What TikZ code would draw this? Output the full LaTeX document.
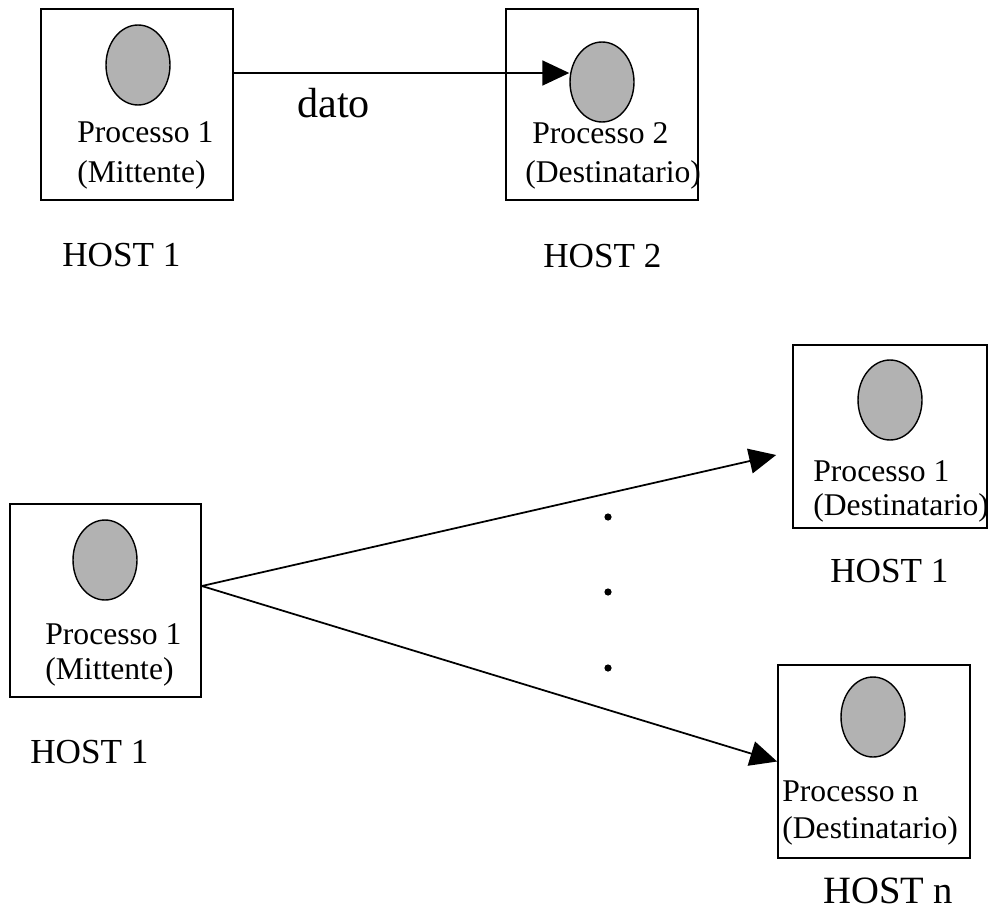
\documentclass[tikz,border=0pt]{standalone}
\usepackage{fontspec}
\setmainfont{Liberation Serif}
\usetikzlibrary{arrows.meta,shapes.geometric}

\begin{document}
\begin{tikzpicture}[x=0.02cm, y=-0.02cm,
    host/.style={draw, line width=1pt, inner sep=0pt},
    proc/.style={draw, ellipse, fill=black!30, line width=0.8pt, minimum width=1.28cm, minimum height=1.6cm, inner sep=0pt},
    lbl/.style={anchor=base west, inner sep=0pt, font=\fontsize{18}{21}\selectfont},
    hostlbl/.style={anchor=base west, inner sep=0pt, font=\fontsize{20}{24}\selectfont},
    arr/.style={-{Triangle[length=0.54cm, width=0.5cm]}, line width=1pt}]
    \useasboundingbox (0,0) rectangle (989,912);

    % unicast: host 1 -> host 2
    \node[host, minimum width=3.84cm, minimum height=3.82cm] (h1) at (137,104.5) {};
    \node[proc] (p1) at (138,65) {};
    \node[lbl] (p1a) at (77,143) {Processo 1};
    \node[lbl] (p1b) at (77,182) {(Mittente)};
    \node[hostlbl] (n1) at (62,266) {HOST 1};

    \node[host, minimum width=3.84cm, minimum height=3.82cm] (h2) at (602,104.5) {};
    \node[proc] (p2) at (602,82) {};
    \node[lbl] (p2a) at (532,144) {Processo 2};
    \node[lbl] (p2b) at (525,182) {(Destinatario)};
    \node[hostlbl] (n2) at (543,267) {HOST 2};

    \draw[arr] ([yshift=0.63cm]h1.east) -- ([yshift=0.63cm]h1.east -| p2.west);
    \node[anchor=base west, inner sep=0pt, font=\fontsize{24}{28}\selectfont] (dato) at (297,118) {dato};

    % multicast: host 1 -> host 1 ... host n
    \node[host, minimum width=3.82cm, minimum height=3.86cm] (h3) at (105.5,600.5) {};
    \node[proc] (p3) at (105,560) {};
    \node[lbl] (p3a) at (45,644) {Processo 1};
    \node[lbl] (p3b) at (45,679) {(Mittente)};
    \node[hostlbl] (n3) at (30,763) {HOST 1};

    \node[host, minimum width=3.88cm, minimum height=3.66cm] (h4) at (890,436.5) {};
    \node[proc] (p4) at (890,400) {};
    \node[lbl] (p4a) at (813,481) {Processo 1};
    \node[lbl] (p4b) at (813,515) {(Destinatario)};
    \node[hostlbl] (n4) at (830,582) {HOST 1};

    \node[host, minimum width=3.84cm, minimum height=3.86cm] (h5) at (874,761.5) {};
    \node[proc] (p5) at (873,717) {};
    \node[lbl] (p5a) at (782,801) {Processo n};
    \node[lbl] (p5b) at (782,838) {(Destinatario)};
    \node[anchor=base west, inner sep=0pt, font=\fontsize{22}{26}\selectfont] (n5) at (823,903) {HOST n};

    \draw[arr] ([yshift=0.29cm]h3.east) -- ([xshift=-0.32cm,yshift=-0.37cm]h4.west);
    \draw[arr] ([yshift=0.29cm]h3.east) -- (h5.west);

    \foreach \y in {517, 592, 668}
        \fill (608,\y) circle (3.6);
\end{tikzpicture}
\end{document}
